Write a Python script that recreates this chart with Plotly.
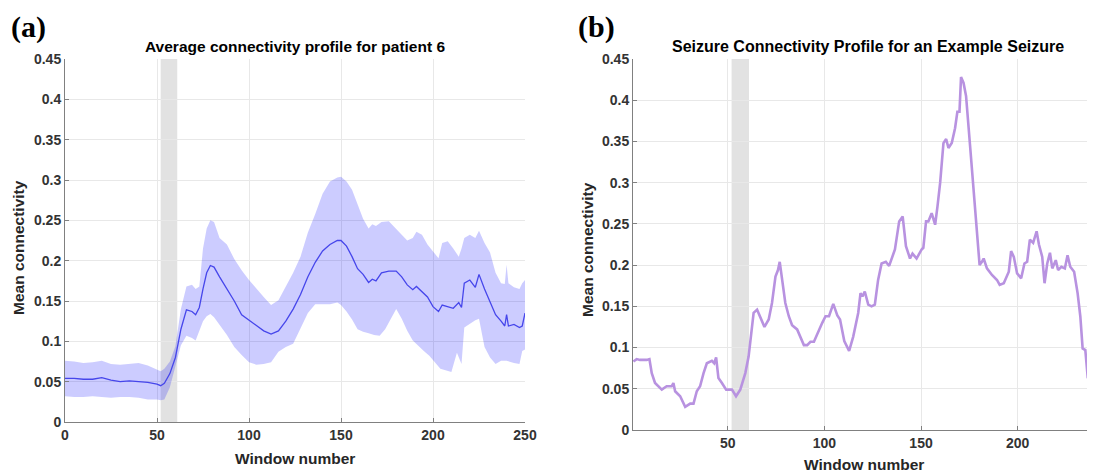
import plotly.graph_objects as go

# ---------------- Panel (a) data ----------------
a_x = [0, 5, 10, 15, 20, 25, 30, 35, 40, 45, 50, 52, 54, 57, 60, 63, 66, 69, 71, 73, 75, 77, 79, 81,
       84, 88, 92, 96, 100, 104, 108, 112, 116, 120, 124, 128, 132, 136, 140, 144, 148, 150, 153,
       156, 159, 162, 165, 167, 169, 172, 176, 180, 183, 186, 189, 191, 194, 197, 200, 203, 205,
       208, 211, 214, 215.5, 217, 220, 223, 225, 228, 231, 234, 237, 239, 240, 241, 244, 247, 248.5, 250]
a_mean = [0.054, 0.054, 0.053, 0.053, 0.055, 0.052, 0.050, 0.051, 0.050, 0.049, 0.047, 0.045, 0.048,
          0.060, 0.080, 0.115, 0.139, 0.137, 0.133, 0.142, 0.165, 0.185, 0.194, 0.192, 0.180, 0.165,
          0.150, 0.133, 0.126, 0.119, 0.113, 0.109, 0.113, 0.125, 0.140, 0.158, 0.180, 0.198, 0.212,
          0.220, 0.225, 0.225, 0.218, 0.205, 0.190, 0.183, 0.173, 0.177, 0.175, 0.185, 0.187, 0.187,
          0.180, 0.170, 0.164, 0.168, 0.162, 0.155, 0.143, 0.137, 0.145, 0.143, 0.141, 0.148, 0.142,
          0.172, 0.176, 0.167, 0.183, 0.165, 0.150, 0.133, 0.125, 0.119, 0.133, 0.119, 0.121, 0.117,
          0.119, 0.135]
a_upper = [0.076, 0.075, 0.073, 0.074, 0.076, 0.072, 0.071, 0.072, 0.073, 0.070, 0.065, 0.063, 0.066,
           0.075, 0.094, 0.140, 0.168, 0.170, 0.165, 0.168, 0.215, 0.240, 0.250, 0.248, 0.228, 0.220,
           0.202, 0.188, 0.176, 0.165, 0.155, 0.145, 0.151, 0.168, 0.185, 0.205, 0.235, 0.258, 0.283,
           0.298, 0.303, 0.304, 0.298, 0.288, 0.270, 0.252, 0.240, 0.245, 0.243, 0.248, 0.249, 0.240,
           0.232, 0.225, 0.228, 0.236, 0.232, 0.220, 0.212, 0.203, 0.222, 0.224, 0.215, 0.205, 0.215,
           0.228, 0.232, 0.228, 0.237, 0.222, 0.210, 0.185, 0.172, 0.171, 0.195, 0.172, 0.167, 0.165,
           0.172, 0.176]
a_lx = [0, 5, 10, 15, 20, 25, 30, 35, 40, 45, 50, 52, 54, 57, 60, 63, 66, 69, 71, 73, 75, 77, 79, 81,
        84, 88, 92, 96, 100, 104, 108, 112, 116, 120, 124, 128, 132, 136, 140, 144, 148, 150, 153,
        156, 159, 162, 165, 168, 171, 174, 177, 180, 183, 186, 189, 192, 195, 198, 201, 204, 207,
        210, 213, 215.5, 217, 220, 223, 225, 228, 231, 234, 237, 240, 244, 247, 248.5, 250]
a_lower = [0.032, 0.031, 0.031, 0.032, 0.031, 0.030, 0.031, 0.031, 0.030, 0.028, 0.028, 0.027, 0.028,
           0.043, 0.068, 0.095, 0.107, 0.104, 0.101, 0.113, 0.125, 0.131, 0.134, 0.130, 0.121, 0.108,
           0.093, 0.083, 0.074, 0.071, 0.072, 0.074, 0.087, 0.093, 0.097, 0.115, 0.135, 0.146, 0.146,
           0.146, 0.148, 0.145, 0.137, 0.127, 0.115, 0.112, 0.110, 0.108, 0.107, 0.115, 0.128, 0.140,
           0.128, 0.113, 0.101, 0.095, 0.088, 0.082, 0.074, 0.066, 0.064, 0.062, 0.086, 0.072, 0.117,
           0.121, 0.126, 0.128, 0.093, 0.080, 0.072, 0.076, 0.076, 0.073, 0.072, 0.088, 0.090]

# ---------------- Panel (b) data ----------------
b_x = [1.2, 2.9, 4.6, 6.3, 8.1, 9.5, 10.7, 12.4, 15.9, 18.4, 21, 21.9, 22.8, 25.4, 28, 30.6, 32.3, 34,
       35.7, 37.5, 39.2, 41.8, 43, 44, 45.2, 47, 49.2, 52.2, 54.3, 56.5, 59.1, 60.8, 63.4, 65.2, 66.9,
       69, 71.2, 72.9, 74.7, 76, 76.9, 78.1, 79.8, 81.6, 83.3, 85.9, 87.6, 89.4, 91.1, 92.8, 94.6, 96.3,
       98.9, 100.6, 102.4, 104.6, 106.7, 108.1, 110.3, 112.8, 114.9, 117.5, 118.7, 119.7, 120.9, 122.7,
       124.4, 126.1, 127.8, 129.6, 131.8, 133.5, 135.3, 136.5, 138.7, 140.5, 142.2, 144.3, 145.6, 147.7,
       150.3, 151.2, 152.6, 153.8, 155.5, 157.3, 158.5, 159.9, 161.6, 163, 164.2, 165.9, 167.6, 168.8,
       169.9, 170.7, 172, 173.3, 175.4, 177.2, 178.9, 180.3, 181.5, 182.4, 184.1, 186.7, 189.3, 190.7,
       192.8, 194.5, 195.4, 196.6, 198, 199.7, 201.8, 203.5, 204.9, 206.3, 208, 209.8, 211, 212.7, 213.9,
       215.3, 216.7, 217.9, 219.7, 220.9, 222.6, 224.4, 225.8, 227.2, 229.2, 231, 232.4, 233.6, 235,
       236.2, 237.9, 240.5]
b_y = [0.083, 0.086, 0.085, 0.085, 0.085, 0.086, 0.069, 0.057, 0.049, 0.053, 0.053, 0.057, 0.047, 0.041,
       0.028, 0.032, 0.032, 0.047, 0.053, 0.069, 0.081, 0.084, 0.081, 0.088, 0.063, 0.057, 0.049, 0.049,
       0.041, 0.049, 0.069, 0.089, 0.142, 0.146, 0.136, 0.125, 0.134, 0.154, 0.186, 0.194, 0.204, 0.182,
       0.154, 0.138, 0.127, 0.122, 0.113, 0.103, 0.103, 0.107, 0.107, 0.117, 0.130, 0.138, 0.138, 0.153,
       0.139, 0.134, 0.108, 0.096, 0.113, 0.142, 0.166, 0.162, 0.168, 0.152, 0.150, 0.152, 0.182, 0.202,
       0.204, 0.199, 0.212, 0.219, 0.253, 0.259, 0.223, 0.208, 0.214, 0.208, 0.219, 0.221, 0.253, 0.253,
       0.263, 0.249, 0.271, 0.300, 0.348, 0.353, 0.342, 0.348, 0.366, 0.386, 0.386, 0.428, 0.421, 0.405,
       0.344, 0.291, 0.231, 0.200, 0.204, 0.208, 0.196, 0.188, 0.182, 0.176, 0.178, 0.186, 0.192, 0.217,
       0.210, 0.190, 0.184, 0.202, 0.204, 0.231, 0.227, 0.241, 0.225, 0.210, 0.178, 0.202, 0.215, 0.196,
       0.206, 0.194, 0.198, 0.196, 0.212, 0.198, 0.192, 0.166, 0.138, 0.099, 0.097, 0.065, 0.067, 0.063]

seizure_window = [52, 61]
y_ticks = [0, 0.05, 0.1, 0.15, 0.2, 0.25, 0.3, 0.35, 0.4, 0.45]
y_ticktext = ["0", "0.05", "0.1", "0.15", "0.2", "0.25", "0.3", "0.35", "0.4", "0.45"]
a_xticks = [0, 50, 100, 150, 200, 250]
b_xticks = [50, 100, 150, 200]

# page body has an 8px margin; the figure is sized so that it ends at the window edge
OFF = 8
W, H = 1095 - OFF, 474 - OFF

def px(x):
    return (x - OFF) / W

def py(y):
    return 1 - (y - OFF) / H

fig = go.Figure()

# Panel (a) band
fig.add_trace(go.Scatter(
    x=a_x + a_lx[::-1], y=a_upper + a_lower[::-1],
    fill="toself", fillcolor="rgba(0,0,255,0.2)", line=dict(width=0),
    mode="lines", hoverinfo="skip", showlegend=False, xaxis="x", yaxis="y"))
fig.add_trace(go.Scatter(
    x=a_x, y=a_mean, mode="lines", line=dict(color="rgb(70,70,235)", width=1.3),
    showlegend=False, xaxis="x", yaxis="y"))

# Panel (b) line
fig.add_trace(go.Scatter(
    x=b_x, y=b_y, mode="lines", line=dict(color="rgb(184,146,224)", width=2.6),
    showlegend=False, xaxis="x2", yaxis="y2"))

tickfont = dict(family="Liberation Sans", size=14, color="#333333", weight="bold")
common = dict(showgrid=True, gridcolor="rgb(232,232,232)", gridwidth=1, showline=True,
              linecolor="rgb(128,128,128)", linewidth=1, ticks="inside", ticklen=4,
              tickcolor="rgb(128,128,128)", tickfont=tickfont, zeroline=False, automargin=False)

fig.update_layout(
    template="none",
    width=W, height=H, margin=dict(l=0, r=0, t=0, b=0, autoexpand=False),
    paper_bgcolor="white", plot_bgcolor="white", showlegend=False,
    xaxis=dict(domain=[px(65), px(525)], range=[0, 250], tickvals=a_xticks, anchor="y", **common),
    yaxis=dict(domain=[py(422), py(59)], range=[0, 0.45], tickvals=y_ticks, ticktext=y_ticktext,
               anchor="x", **common),
    xaxis2=dict(domain=[px(633), px(1095)], range=[1, 240], tickvals=b_xticks, anchor="y2", **common),
    yaxis2=dict(domain=[py(430), py(59)], range=[0, 0.45], tickvals=y_ticks, ticktext=y_ticktext,
                anchor="x2", **common),
    shapes=[
        dict(type="rect", xref="x", yref="y", x0=seizure_window[0], x1=seizure_window[1], y0=0, y1=0.45,
             fillcolor="rgb(226,226,226)", line=dict(width=0), layer="below"),
        dict(type="rect", xref="x2", yref="y2", x0=seizure_window[0], x1=seizure_window[1], y0=0, y1=0.45,
             fillcolor="rgb(226,226,226)", line=dict(width=0), layer="below"),
    ],
)

def ann(text, x, y, size, family="Liberation Sans", color="#222222", angle=0, yanchor="middle"):
    fig.add_annotation(text=text, x=px(x), y=py(y), xref="paper", yref="paper",
                       xanchor="center", yanchor=yanchor, showarrow=False, textangle=angle,
                       font=dict(family=family, size=size, color=color, weight="bold"))

ann("(a)", 28, 8, 30, family="Liberation Serif", color="black", yanchor="top")
ann("(b)", 596, 8, 30, family="Liberation Serif", color="black", yanchor="top")
ann("Average connectivity profile for patient 6", 295, 46.5, 15.5, color="black")
ann("Seizure Connectivity Profile for an Example Seizure", 868, 46.5, 16, color="black")
ann("Window number", 295, 458, 15.5, color="#262626")
ann("Window number", 864, 464.5, 15.5, color="#262626")
ann("Mean connectivity", 18, 248, 15.5, color="#262626", angle=-90)
ann("Mean connectivity", 588, 250, 15.5, color="#262626", angle=-90)

fig.write_html("out.html")
